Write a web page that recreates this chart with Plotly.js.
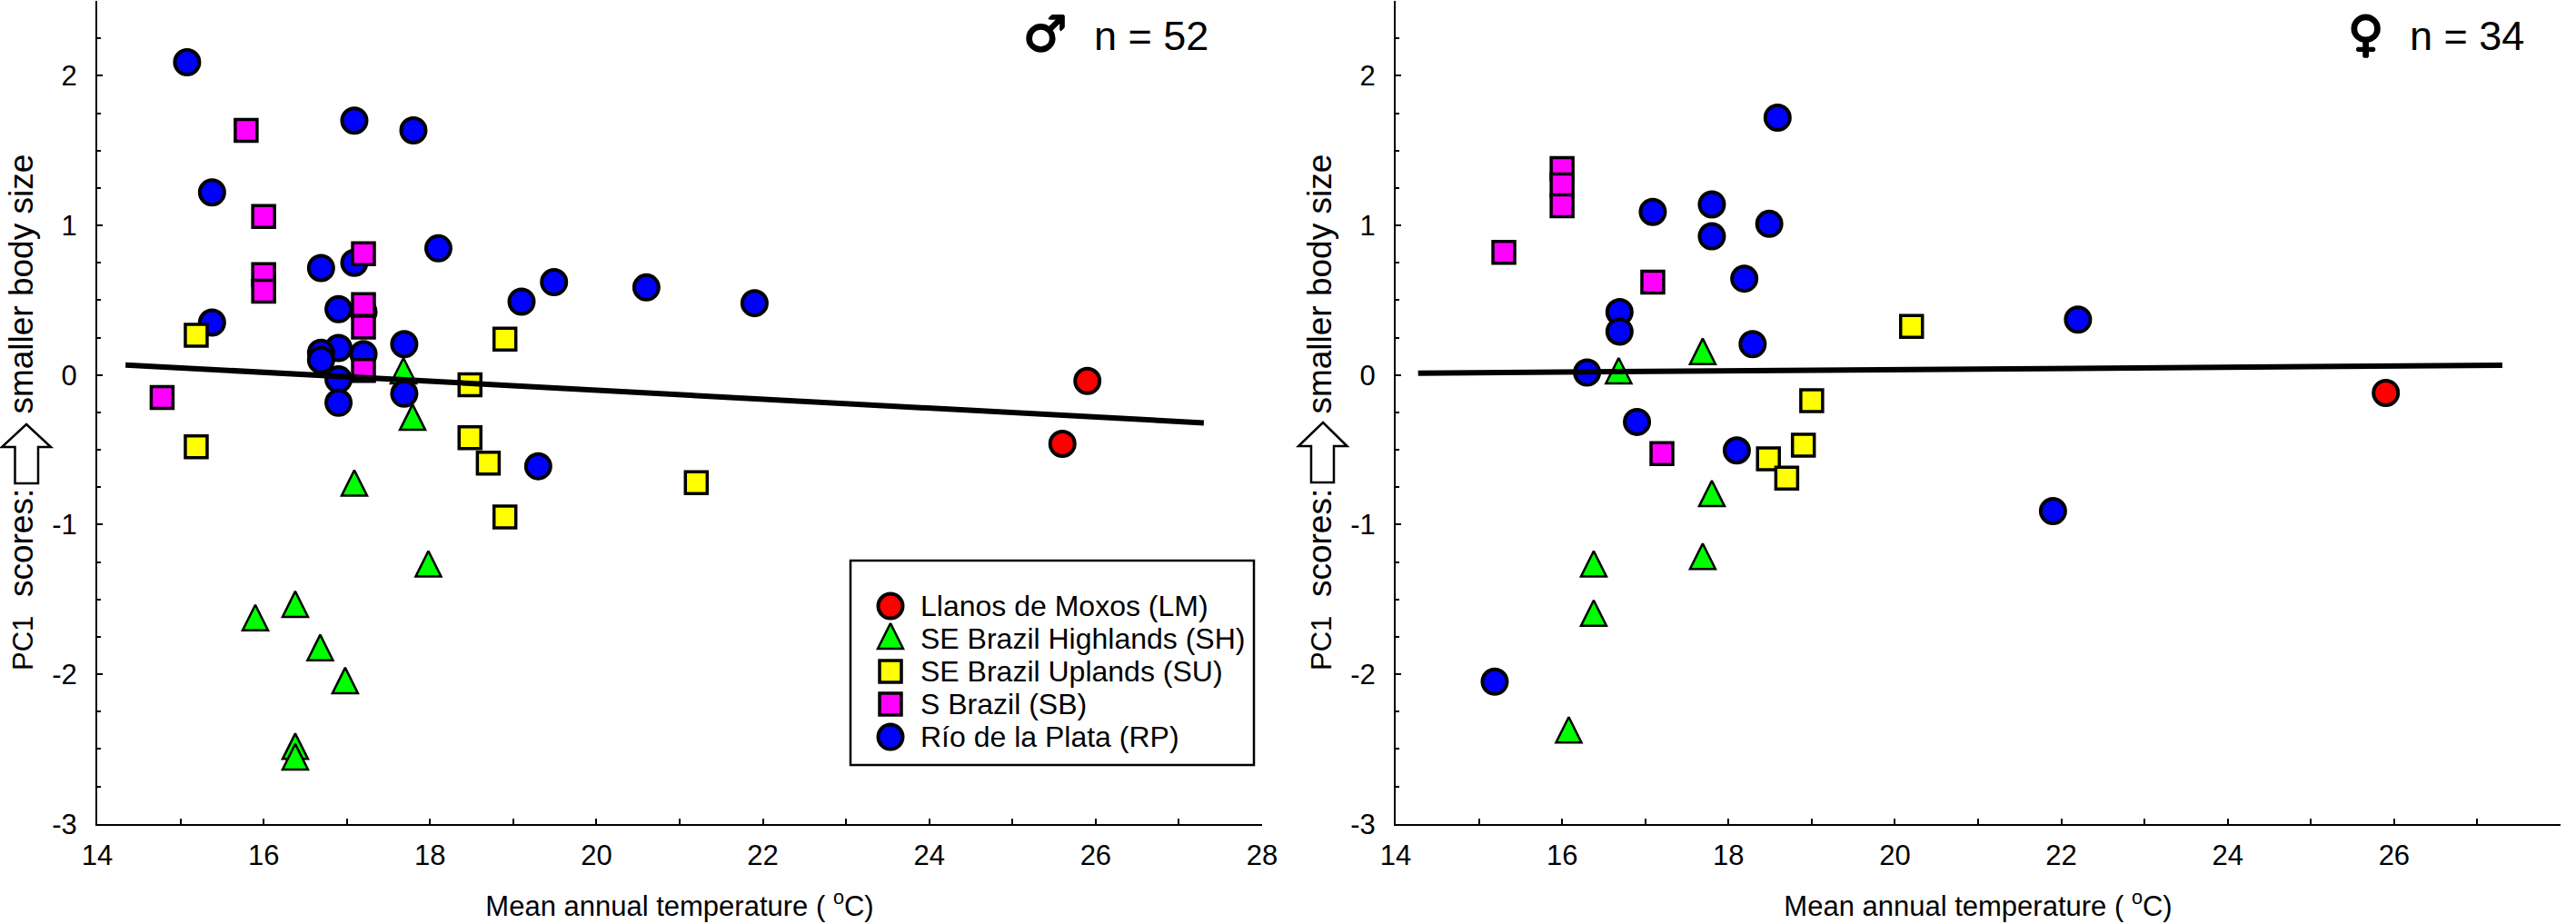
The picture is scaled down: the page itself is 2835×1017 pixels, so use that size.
<!DOCTYPE html>
<html><head><meta charset="utf-8"><script src="https://cdn.plot.ly/plotly-3.0.1.min.js"></script>
<style>html,body{margin:0;padding:0;background:#fff}</style></head><body><div id="c" style="width:2835px;height:1017px"></div>
<script>
const W=2835,H=1017;
// Male panel
const mLMx=[25.9,25.6], mLMy=[-0.04,-0.46];
const mSHx=[17.68,17.79,17.09,17.98,16.38,15.9,16.68,16.98,16.38,16.38];
const mSHy=[0.01,-0.30,-0.74,-1.28,-1.55,-1.64,-1.84,-2.06,-2.50,-2.57];
const mSUx=[15.19,15.19,18.9,18.48,18.48,18.7,18.9,21.2];
const mSUy=[0.265,-0.48,0.24,-0.065,-0.42,-0.59,-0.95,-0.72];
const mSBx=[15.79,16.0,16.0,16.0,17.2,17.2,17.2,17.2,14.78];
const mSBy=[1.635,1.06,0.67,0.56,0.81,0.47,0.32,0.03,-0.15];
const mRPx=[15.08,17.09,17.8,15.38,18.1,16.69,17.09,19.1,19.49,16.9,17.2,15.38,17.69,16.9,16.69,16.69,17.2,16.9,16.9,17.69,19.3,20.6,21.9];
const mRPy=[2.09,1.70,1.635,1.22,0.846,0.715,0.75,0.49,0.62,0.44,0.42,0.35,0.206,0.18,0.148,0.10,0.14,-0.03,-0.186,-0.125,-0.61,0.585,0.48];
const mFitX=[14.34,27.3], mFitY=[0.067,-0.32];
// Female panel
const fLMx=[25.9], fLMy=[-0.12];
const fSHx=[17.69,16.68,17.8,17.69,16.38,16.38,16.08];
const fSHy=[0.14,0.01,-0.81,-1.23,-1.28,-1.61,-2.39];
const fSUx=[20.2,19.0,18.9,18.48,18.7];
const fSUy=[0.324,-0.172,-0.47,-0.56,-0.69];
const fSBx=[16,16,16,15.3,17.09,17.2];
const fSBy=[1.38,1.27,1.13,0.82,0.62,-0.526];
const fRPx=[18.59,17.09,17.8,17.8,18.49,18.19,16.69,16.69,18.29,16.3,16.9,18.1,22.2,21.9,15.19];
const fRPy=[1.72,1.09,1.14,0.927,1.01,0.644,0.42,0.29,0.206,0.016,-0.314,-0.504,0.37,-0.91,-2.05];
const fFitX=[14.27,27.3], fFitY=[0.012,0.065];
// Legend
const regionNames=['Llanos de Moxos (LM)','SE Brazil Highlands (SH)','SE Brazil Uplands (SU)','S Brazil (SB)','Río de la Plata (RP)'];
const regionColors=['#FF0000','#00FF00','#FFFF00','#FF00FF','#0000FF'];
const xTickVals=[14,16,18,20,22,24,26,28];
const yTickVals=[-3,-2,-1,0,1,2];
const xTitle='Mean annual temperature ( <sup>o</sup>C)';
const yTitle='<span style="font-size:31px">PC1</span>\u00A0\u00A0scores:\u00A0\u00A0\u00A0\u00A0\u00A0\u00A0\u00A0\u00A0smaller body size';

const FONT='Liberation Sans, Arial, sans-serif';
const pxPerY=164.7;
const triApex=17/pxPerY; // the arrow-up glyph hangs from its tip; lift it so its centre sits on the value
const mk={
 circle:c=>({symbol:'circle',size:27,color:c,line:{color:'#000',width:4}}),
 tri:c=>({symbol:'arrow-up',size:28,color:c,line:{color:'#000',width:2.5}}),
 square:c=>({symbol:'square',size:24,color:c,line:{color:'#000',width:3.5}})
};
function pts(x,y,m,xa,ya,name){return {type:'scatter',mode:'markers',x:x,y:y,marker:m,xaxis:xa,yaxis:ya,name:name,showlegend:false,cliponaxis:false,hoverinfo:'x+y+name'};}
function panel(d,xa,ya){
 return [
  pts(d.SHx,d.SHy.map(v=>v+triApex),mk.tri(regionColors[1]),xa,ya,regionNames[1]),
  pts(d.RPx,d.RPy,mk.circle(regionColors[4]),xa,ya,regionNames[4]),
  pts(d.SBx,d.SBy,mk.square(regionColors[3]),xa,ya,regionNames[3]),
  pts(d.SUx,d.SUy,mk.square(regionColors[2]),xa,ya,regionNames[2]),
  pts(d.LMx,d.LMy,mk.circle(regionColors[0]),xa,ya,regionNames[0]),
  {type:'scatter',mode:'lines',x:d.fx,y:d.fy,line:{color:'#000',width:6},xaxis:xa,yaxis:ya,showlegend:false,hoverinfo:'skip'}
 ];
}
const rowY=[0,1,2,3,4];
const rowApex=17/36;
const legendTraces=[
 pts([44],[rowY[0]],mk.circle(regionColors[0]),'x3','y3',regionNames[0]),
 pts([44],[rowY[1]-rowApex],mk.tri(regionColors[1]),'x3','y3',regionNames[1]),
 pts([44],[rowY[2]],mk.square(regionColors[2]),'x3','y3',regionNames[2]),
 pts([44],[rowY[3]],mk.square(regionColors[3]),'x3','y3',regionNames[3]),
 pts([44],[rowY[4]],mk.circle(regionColors[4]),'x3','y3',regionNames[4])
];
const data=[...panel({LMx:mLMx,LMy:mLMy,SHx:mSHx,SHy:mSHy,SUx:mSUx,SUy:mSUy,SBx:mSBx,SBy:mSBy,RPx:mRPx,RPy:mRPy,fx:mFitX,fy:mFitY},'x','y'),
 ...panel({LMx:fLMx,LMy:fLMy,SHx:fSHx,SHy:fSHy,SUx:fSUx,SUy:fSUy,SBx:fSBx,SBy:fSBy,RPx:fRPx,RPy:fRPy,fx:fFitX,fy:fFitY},'x2','y2'),
 ...legendTraces];

const px=x=>x/W, py=y=>1-y/H;
function xAxis(l,r,anchor){return {domain:[px(l),px(r)],range:[14,28],anchor:anchor,showgrid:false,zeroline:false,showline:true,linecolor:'#000',linewidth:2,
 ticks:'inside',ticklen:6,tickwidth:2,tickcolor:'#000',tickvals:xTickVals,ticktext:xTickVals.map(String),tickfont:{family:FONT,size:31,color:'#000'},ticklabelstandoff:6,
 minor:{dtick:1,ticks:'inside',ticklen:6,tickwidth:2,tickcolor:'#000',showgrid:false},
 title:{text:xTitle,font:{family:FONT,size:31,color:'#000'},standoff:28}};}
function yAxis(anchor){return {domain:[py(906.7),py(1)],range:[-3,2.5],anchor:anchor,showgrid:false,zeroline:false,showline:true,linecolor:'#000',linewidth:2,
 ticks:'inside',ticklen:6,tickwidth:2,tickcolor:'#000',tickvals:yTickVals,ticktext:yTickVals.map(String),tickfont:{family:FONT,size:31,color:'#000'},ticklabelstandoff:14,
 minor:{dtick:0.25,ticks:'inside',ticklen:4,tickwidth:2,tickcolor:'#000',showgrid:false},
 title:{text:yTitle,font:{family:FONT,size:37,color:'#000'},standoff:9}};}
function blockArrow(tx,ty,hb,hl,hr,sl,sr,b){
 const P=(x,y)=>px(x).toFixed(5)+','+py(y).toFixed(5);
 return {type:'path',xref:'paper',yref:'paper',fillcolor:'#fff',line:{color:'#000',width:2.5},
  path:'M'+P(tx,ty)+'L'+P(hr,hb)+'L'+P(sr,hb)+'L'+P(sr,b)+'L'+P(sl,b)+'L'+P(sl,hb)+'L'+P(hl,hb)+'Z'};
}
const ann=(text,x,y,size,xanchor,extra)=>Object.assign({xref:'paper',yref:'paper',x:px(x),y:py(y),text:text,showarrow:false,xanchor:xanchor,yanchor:'middle',font:{family:FONT,size:size,color:'#000'}},extra||{});
const sym={family:'DejaVu Sans',size:54,color:'#000',weight:700,shadow:'1px 0 0 #000, -1px 0 0 #000, 0 1px 0 #000, 0 -1px 0 #000'};
const legendAnn=regionNames.map((t,i)=>({xref:'x3',yref:'y3',x:75,y:rowY[i],text:t,showarrow:false,xanchor:'left',yanchor:'middle',font:{family:FONT,size:32,color:'#000'}}));
const layout={width:W,height:H,margin:{l:0,r:0,t:0,b:0},paper_bgcolor:'#fff',plot_bgcolor:'rgba(0,0,0,0)',showlegend:false,hovermode:'closest',
 xaxis:xAxis(107,1389,'y'),yaxis:yAxis('x'),xaxis2:xAxis(1536,2818,'y2'),yaxis2:yAxis('x2'),
 xaxis3:{domain:[px(936),px(1380)],range:[0,444],anchor:'y3',visible:false,fixedrange:true},
 yaxis3:{domain:[py(842),py(617)],range:[4.86,-1.39],anchor:'x3',visible:false,fixedrange:true},
 shapes:[
  {type:'rect',xref:'paper',yref:'paper',x0:px(936),x1:px(1380),y0:py(617),y1:py(842),line:{color:'#000',width:2.5},fillcolor:'#fff',layer:'below'},
  blockArrow(29,467,492,2,56,16.5,42,532),
  blockArrow(1456,465,491,1429,1482.5,1443,1468,531)
 ],
 annotations:[
  ann('\u2642',1150,37,54,'center',{font:sym}),
  ann('n = 52',1202,40,45,'left'),
  ann('\u2640',2604,37,54,'center',{font:sym}),
  ann('n = 34',2650,40,45,'left'),
  ...legendAnn
 ]};
Plotly.newPlot('c',data,layout,{staticPlot:false,displayModeBar:false,responsive:false});
</script></body></html>
